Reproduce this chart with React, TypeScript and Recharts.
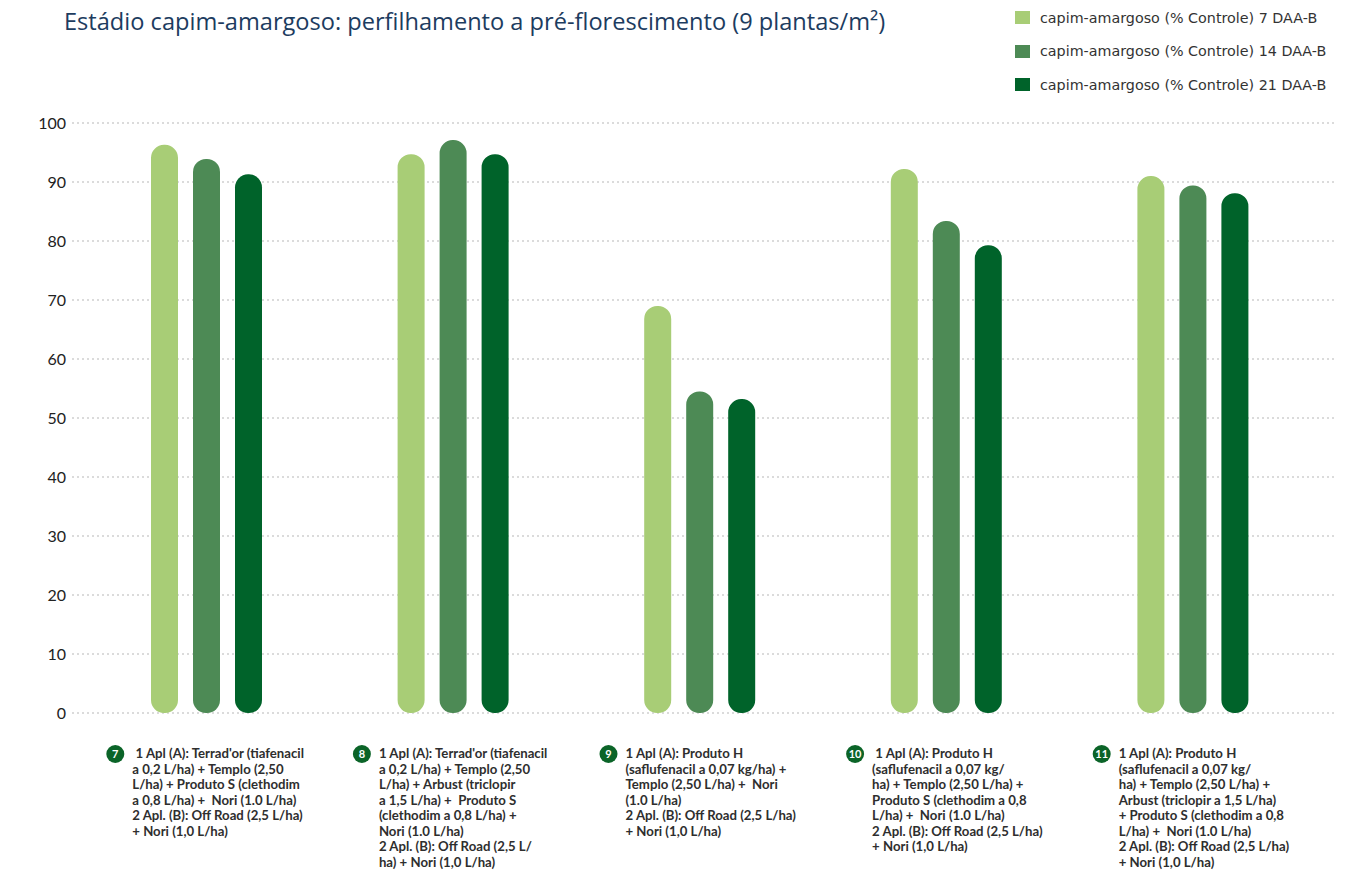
import React from 'react';
import { BarChart, Bar, XAxis, YAxis, CartesianGrid, Legend } from 'recharts';

const categories = ['7', '8', '9', '10', '11'];
const daa7 = [96.3, 94.7, 69.0, 92.2, 91.0];
const daa14 = [93.9, 97.1, 54.5, 83.4, 89.4];
const daa21 = [91.3, 94.7, 53.2, 79.3, 88.1];
const seriesNames = [
  'capim-amargoso (% Controle) 7 DAA-B',
  'capim-amargoso (% Controle) 14 DAA-B',
  'capim-amargoso (% Controle) 21 DAA-B',
];
const seriesColors = ['#a8cd76', '#4d8a55', '#00632a'];
const yTicks = [0, 10, 20, 30, 40, 50, 60, 70, 80, 90, 100];
const treatmentLines: string[][] = [
  [
    " 1 Apl (A): Terrad'or (tiafenacil",
    'a 0,2 L/ha) + Templo (2,50',
    'L/ha) + Produto S (clethodim',
    'a 0,8 L/ha) +  Nori (1.0 L/ha)',
    '2 Apl. (B): Off Road (2,5 L/ha)',
    '+ Nori (1,0 L/ha)',
  ],
  [
    "1 Apl (A): Terrad'or (tiafenacil",
    'a 0,2 L/ha) + Templo (2,50',
    'L/ha) + Arbust (triclopir',
    'a 1,5 L/ha) +  Produto S',
    '(clethodim a 0,8 L/ha) +',
    'Nori (1.0 L/ha)',
    '2 Apl. (B): Off Road (2,5 L/',
    'ha) + Nori (1,0 L/ha)',
  ],
  [
    '1 Apl (A): Produto H',
    '(saflufenacil a 0,07 kg/ha) +',
    'Templo (2,50 L/ha) +  Nori',
    '(1.0 L/ha)',
    '2 Apl. (B): Off Road (2,5 L/ha)',
    '+ Nori (1,0 L/ha)',
  ],
  [
    ' 1 Apl (A): Produto H',
    '(saflufenacil a 0,07 kg/',
    'ha) + Templo (2,50 L/ha) +',
    'Produto S (clethodim a 0,8',
    'L/ha) +  Nori (1.0 L/ha)',
    '2 Apl. (B): Off Road (2,5 L/ha)',
    '+ Nori (1,0 L/ha)',
  ],
  [
    '1 Apl (A): Produto H',
    '(saflufenacil a 0,07 kg/',
    'ha) + Templo (2,50 L/ha) +',
    'Arbust (triclopir a 1,5 L/ha)',
    '+ Produto S (clethodim a 0,8',
    'L/ha) +  Nori (1.0 L/ha)',
    '2 Apl. (B): Off Road (2,5 L/ha)',
    '+ Nori (1,0 L/ha)',
  ],
];

const data = categories.map((c, i) => ({
  name: c,
  d7: daa7[i],
  d14: daa14[i],
  d21: daa21[i],
}));

const FONT = 'Lato, "Open Sans", sans-serif';

const CategoryTick = (props: any) => {
  const { x, y, payload } = props;
  const idx = payload.index;
  const lines = treatmentLines[idx] || [];
  return (
    <g>
      <circle cx={x - 91} cy={y + 41} r={9} fill="#0b6428" />
      <text
        x={x - 91}
        y={y + 45}
        textAnchor="middle"
        fill="#fff"
        fontSize={11}
        fontWeight={700}
        fontFamily={FONT}
      >
        {categories[idx]}
      </text>
      <text fontSize={13.2} fontWeight={700} fill="#2e2e2e" fontFamily={FONT} style={{ whiteSpace: 'pre' }}>
        {lines.map((l, i) => (
          <tspan key={i} x={x - 74} y={y + 45 + i * 15.5} xmlSpace="preserve">
            {l}
          </tspan>
        ))}
      </text>
    </g>
  );
};

const LegendContent = () => (
  <div style={{ fontFamily: '"DejaVu Sans", sans-serif' }}>
    {seriesNames.map((n, i) => (
      <div key={i} style={{ display: 'flex', alignItems: 'center', height: 33.5 }}>
        <span
          style={{
            display: 'inline-block',
            width: 15,
            height: 13,
            background: seriesColors[i],
            marginRight: 10,
          }}
        />
        <span style={{ fontSize: 14.3, color: '#333' }}>{n}</span>
      </div>
    ))}
  </div>
);

export default function App() {
  return (
    <div style={{ position: 'absolute', left: 0, top: 0, width: 1366, height: 871, background: '#fff' }}>
      <div
        style={{
          position: 'absolute',
          left: 64,
          top: 5,
          fontFamily: '"Open Sans", sans-serif',
          fontSize: 23.6,
          color: '#1d3c5f',
          whiteSpace: 'nowrap',
          zIndex: 2,
        }}
      >
        Estádio capim-amargoso: perfilhamento a pré-florescimento (9 plantas/m²)
      </div>
      <BarChart
        width={1366}
        height={871}
        data={data}
        margin={{ top: 123, right: 30, bottom: 0, left: 0 }}
        barSize={27}
        barGap={15}
      >
        <CartesianGrid vertical={false} stroke="#cfcfcf" strokeDasharray="2 3" strokeWidth={1.5} />
        <XAxis
          dataKey="name"
          height={158}
          axisLine={false}
          tickLine={false}
          tickSize={0}
          tickMargin={0}
          interval={0}
          padding={{ left: 11, right: 20 }}
          tick={<CategoryTick />}
        />
        <YAxis
          width={72}
          domain={[0, 100]}
          ticks={yTicks}
          axisLine={false}
          tickLine={false}
          tickSize={0}
          tickMargin={6}
          tick={{ fill: '#222', fontSize: 16, fontFamily: FONT }}
        />
        <Legend
          layout="horizontal"
          verticalAlign="middle"
          align="center"
          wrapperStyle={{ position: 'absolute', left: 1015, top: 1, width: 350 }}
          content={<LegendContent />}
        />
        <Bar dataKey="d7" name={seriesNames[0]} fill={seriesColors[0]} radius={13} isAnimationActive={false} />
        <Bar dataKey="d14" name={seriesNames[1]} fill={seriesColors[1]} radius={13} isAnimationActive={false} />
        <Bar dataKey="d21" name={seriesNames[2]} fill={seriesColors[2]} radius={13} isAnimationActive={false} />
      </BarChart>
    </div>
  );
}
